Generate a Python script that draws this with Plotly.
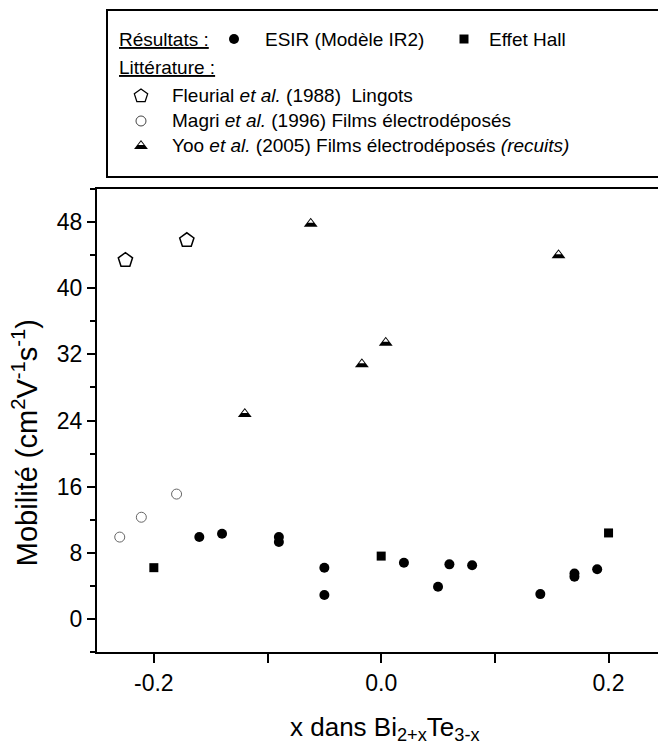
import plotly.graph_objects as go

# données
esir_x = [-0.16, -0.14, -0.09, -0.09, -0.05, -0.05, 0.02, 0.05, 0.06, 0.08, 0.14, 0.17, 0.17, 0.19]
esir_y = [9.9, 10.3, 9.9, 9.3, 6.2, 2.9, 6.8, 3.9, 6.6, 6.5, 3.0, 5.1, 5.5, 6.0]
hall_x = [-0.2, 0.0, 0.2]
hall_y = [6.2, 7.6, 10.4]
fleurial_x = [-0.225, -0.171]
fleurial_y = [43.4, 45.8]
magri_x = [-0.23, -0.211, -0.18]
magri_y = [9.9, 12.3, 15.1]
yoo_x = [-0.12, -0.062, -0.017, 0.004, 0.156]
yoo_y = [24.8, 47.8, 30.8, 33.4, 44.0]

x_ticks = [-0.2, -0.1, 0.0, 0.1, 0.2]
x_ticktext = ["-0.2", "", "0.0", "", "0.2"]
y_ticks = [0, 8, 16, 24, 32, 40, 48]

FONT = "Arial, Liberation Sans, sans-serif"
tri_shift = 0.26  # petit triangle blanc décalé vers le haut

fig = go.Figure()

fig.add_trace(go.Scatter(x=fleurial_x, y=fleurial_y, mode="markers",
                         marker=dict(symbol="pentagon-open", size=15, color="black", line=dict(width=1.5))))
fig.add_trace(go.Scatter(x=magri_x, y=magri_y, mode="markers",
                         marker=dict(symbol="circle-open", size=10, color="#666", line=dict(width=1))))
fig.add_trace(go.Scatter(x=yoo_x, y=yoo_y, mode="markers",
                         marker=dict(symbol="triangle-up", size=12, color="black", line=dict(width=0))))
fig.add_trace(go.Scatter(x=yoo_x, y=[v + tri_shift for v in yoo_y], mode="markers",
                         marker=dict(symbol="triangle-up", size=4.7, color="white", line=dict(width=0))))
fig.add_trace(go.Scatter(x=esir_x, y=esir_y, mode="markers",
                         marker=dict(symbol="circle", size=10, color="black", line=dict(width=0))))
fig.add_trace(go.Scatter(x=hall_x, y=hall_y, mode="markers",
                         marker=dict(symbol="square", size=9, color="black", line=dict(width=0))))

# légende dessinée à la main (coordonnées en pixels sur un axe caché)
leg_x = [234, 464, 141, 141, 141]
leg_y = [39, 39, 96, 121, 146]
fig.add_trace(go.Scatter(x=[leg_x[0]], y=[leg_y[0]], xaxis="x2", yaxis="y2", mode="markers",
                         marker=dict(symbol="circle", size=10, color="black")))
fig.add_trace(go.Scatter(x=[leg_x[1]], y=[leg_y[1]], xaxis="x2", yaxis="y2", mode="markers",
                         marker=dict(symbol="square", size=9, color="black")))
fig.add_trace(go.Scatter(x=[leg_x[2]], y=[leg_y[2]], xaxis="x2", yaxis="y2", mode="markers",
                         marker=dict(symbol="pentagon-open", size=14, color="black", line=dict(width=1.3))))
fig.add_trace(go.Scatter(x=[leg_x[3]], y=[leg_y[3]], xaxis="x2", yaxis="y2", mode="markers",
                         marker=dict(symbol="circle-open", size=10, color="#444", line=dict(width=1))))
fig.add_trace(go.Scatter(x=[leg_x[4]], y=[leg_y[4]], xaxis="x2", yaxis="y2", mode="markers",
                         marker=dict(symbol="triangle-up", size=12, color="black")))
fig.add_trace(go.Scatter(x=[leg_x[4]], y=[leg_y[4] - 2.2], xaxis="x2", yaxis="y2", mode="markers",
                         marker=dict(symbol="triangle-up", size=4.7, color="white")))

leg_text = [
    (117, 39, "<u>Résultats :</u>"),
    (263, 39, "ESIR (Modèle IR2)"),
    (487, 39, "Effet Hall"),
    (117, 68, "<u>Littérature :</u>"),
    (170, 96, "Fleurial <i>et al.</i> (1988) \u00a0Lingots"),
    (170, 121, "Magri <i>et al.</i> (1996) Films électrodéposés"),
    (170, 146, "Yoo <i>et al.</i> (2005) Films électrodéposés <i>(recuits)</i>"),
]
annotations = [dict(x=tx, y=ty, xref="x2", yref="y2", text=t, showarrow=False,
                    xanchor="left", yanchor="middle", font=dict(size=19, color="black", family=FONT))
               for tx, ty, t in leg_text]

# titres des axes placés en annotations
annotations.append(dict(x=-0.128, y=0.3206, xref="paper", yref="paper", textangle=-90,
                        text="Mobilité (cm<sup>2</sup>V<sup>-1</sup>s<sup>-1</sup>)", showarrow=False,
                        xanchor="center", yanchor="middle",
                        font=dict(size=29, color="black", family=FONT)))
annotations.append(dict(x=0.3405, y=-0.1166, xref="paper", yref="paper",
                        text="x dans Bi<sub>2+x</sub>Te<sub>3-x</sub>", showarrow=False,
                        xanchor="left", yanchor="middle",
                        font=dict(size=26, color="black", family=FONT)))

fig.update_layout(
    width=658, height=749,
    margin=dict(l=97, r=0, t=0, b=97),
    paper_bgcolor="white", plot_bgcolor="white",
    showlegend=False,
    font=dict(family=FONT, color="black"),
    annotations=annotations,
    xaxis=dict(range=[-0.25, 0.2435], domain=[0, 1], anchor="y",
               tickvals=x_ticks, ticktext=x_ticktext,
               ticks="outside", ticklen=9, tickwidth=1.5, tickcolor="black",
               showline=True, linewidth=2, linecolor="black", mirror=True,
               showgrid=False, zeroline=False,
               tickfont=dict(size=23, color="black")),
    xaxis3=dict(range=[-0.25, 0.2435], overlaying="x", side="top", anchor="y",
                tickvals=x_ticks, showticklabels=False,
                ticks="inside", ticklen=9, tickwidth=1.5, tickcolor="black",
                showline=False, showgrid=False, zeroline=False),
    yaxis=dict(range=[-4, 52], domain=[0, 0.7101], anchor="x",
               tickvals=y_ticks,
               ticks="outside", ticklen=8, tickwidth=1.5, tickcolor="black",
               minor=dict(dtick=8, tick0=4, ticks="outside", ticklen=5, tickwidth=1.5, tickcolor="black"),
               showline=True, linewidth=2, linecolor="black",
               showgrid=False, zeroline=False,
               tickfont=dict(size=23, color="black")),
    yaxis3=dict(range=[-4, 52], overlaying="y", side="right", anchor="x",
                tickvals=y_ticks, showticklabels=False,
                ticks="inside", ticklen=2, tickwidth=1.5, tickcolor="black",
                showline=False, showgrid=False, zeroline=False),
    xaxis2=dict(range=[108, 658], domain=[0.0196, 1], anchor="y2",
                showline=True, linewidth=1.5, linecolor="black", mirror=True,
                showticklabels=False, ticks="", showgrid=False, zeroline=False, fixedrange=True),
    yaxis2=dict(range=[176, 11], domain=[0.7301, 0.9831], anchor="x2",
                showline=True, linewidth=1.5, linecolor="black",
                showticklabels=False, ticks="", showgrid=False, zeroline=False, fixedrange=True),
)

# la page n'a pas de marge autour du graphique
fig.write_html("out.html", config={"displayModeBar": False},
               post_script="document.body.style.margin='0px';")
